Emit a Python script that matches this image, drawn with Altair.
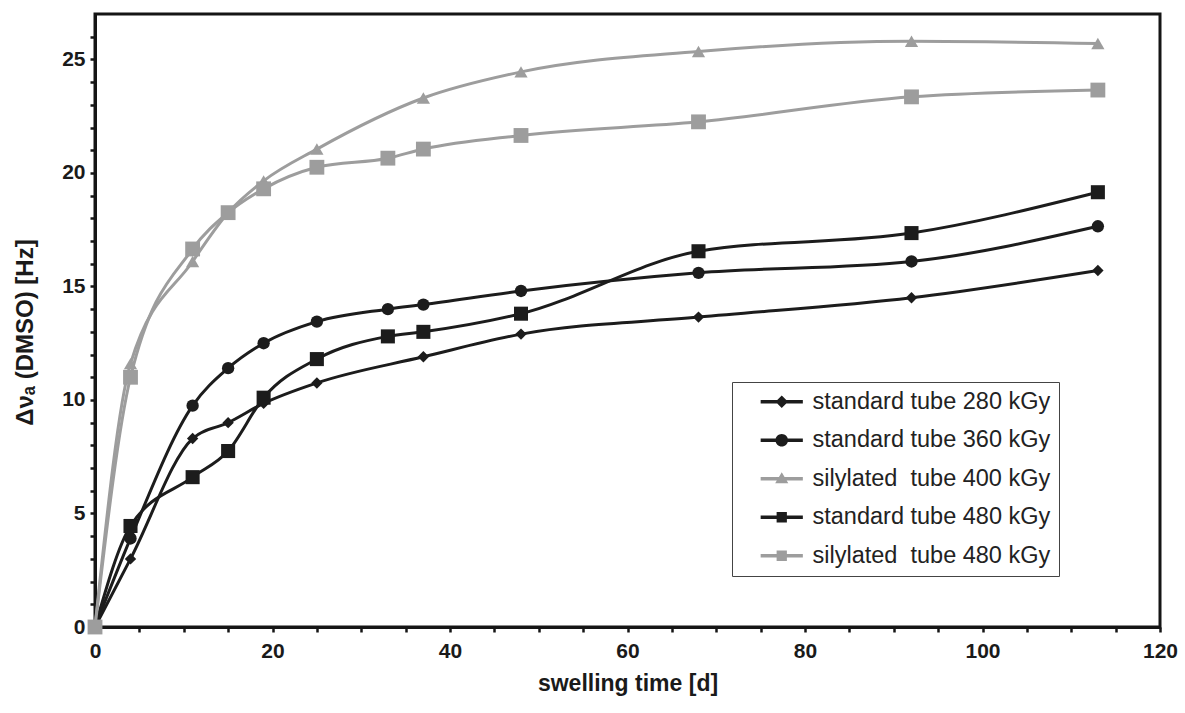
import altair as alt
import pandas as pd

series_names = [
    "standard tube 280 kGy",
    "standard tube 360 kGy",
    "silylated\u00a0 tube 400 kGy",
    "standard tube 480 kGy",
    "silylated\u00a0 tube 480 kGy",
]

days_std280 = [0, 4, 11, 15, 19, 25, 37, 48, 68, 92, 113]
vals_std280 = [0, 3.0, 8.3, 9.0, 9.85, 10.75, 11.9, 12.9, 13.65, 14.5, 15.7]

days_std360 = [0, 4, 11, 15, 19, 25, 33, 37, 48, 68, 92, 113]
vals_std360 = [0, 3.9, 9.75, 11.4, 12.5, 13.45, 14.0, 14.2, 14.8, 15.6, 16.1, 17.65]

days_sil400 = [0, 4, 11, 15, 19, 25, 37, 48, 68, 92, 113]
vals_sil400 = [0, 11.6, 16.1, 18.25, 19.65, 21.05, 23.3, 24.45, 25.35, 25.8, 25.7]

days_std480 = [0, 4, 11, 15, 19, 25, 33, 37, 48, 68, 92, 113]
vals_std480 = [0, 4.45, 6.6, 7.75, 10.1, 11.8, 12.8, 13.0, 13.8, 16.55, 17.35, 19.15]

days_sil480 = [0, 4, 11, 15, 19, 25, 33, 37, 48, 68, 92, 113]
vals_sil480 = [0, 11.0, 16.65, 18.25, 19.3, 20.25, 20.65, 21.05, 21.65, 22.25, 23.35, 23.65]

series_colors = ["#1c1c1c", "#1c1c1c", "#9d9d9d", "#1c1c1c", "#9d9d9d"]
series_shapes = ["diamond", "circle", "triangle-up", "square", "square"]
series_sizes = [130, 220, 210, 170, 170]
series_widths = [3, 3, 3.6, 3, 3.6]

# legend symbols: line segment + marker, as custom paths
bar = "M-3.7,-0.3H3.7V0.3H-3.7Z"
legend_shapes = [
    bar + "M0,-1.1L1.1,0L0,1.1L-1.1,0Z",
    bar + "M-1.1,0A1.1,1.1 0 1,1 1.1,0A1.1,1.1 0 1,1 -1.1,0Z",
    bar + "M0,-1.15L1.15,0.8L-1.15,0.8Z",
    bar + "M-0.9,-0.9H0.9V0.9H-0.9Z",
    bar + "M-0.9,-0.9H0.9V0.9H-0.9Z",
]

rows = []
for name, days, vals in zip(
    series_names,
    [days_std280, days_std360, days_sil400, days_std480, days_sil480],
    [vals_std280, vals_std360, vals_sil400, vals_std480, vals_sil480],
):
    for d, v in zip(days, vals):
        rows.append({"series": name, "day": d, "value": v})
df = pd.DataFrame(rows)

font = "Liberation Sans"

x_enc = alt.X(
    "day:Q",
    scale=alt.Scale(domain=[0, 120], nice=False),
    axis=alt.Axis(
        title="swelling time [d]",
        values=list(range(0, 121, 5)),
        labelExpr="datum.value % 20 == 0 ? datum.label : ''",
        titleFontSize=23,
        titlePadding=11,
        labelPadding=8,
    ),
)
y_enc = alt.Y(
    "value:Q",
    scale=alt.Scale(domain=[0, 27], nice=False),
    axis=alt.Axis(
        title="\u0394\u03bd\u2090 (DMSO) [Hz]",
        values=list(range(0, 27)),
        labelExpr="datum.value % 5 == 0 ? datum.label : ''",
        titleFontSize=24,
        titleX=-70,
        titleY=318,
        titleAlign="center",
        titleBaseline="middle",
        labelPadding=5,
    ),
)

color_nolegend = alt.Color(
    "series:N",
    scale=alt.Scale(domain=series_names, range=series_colors),
    legend=None,
)

lines = alt.Chart(df).mark_line(interpolate="monotone").encode(
    x=x_enc,
    y=y_enc,
    color=color_nolegend,
    detail="series:N",
    strokeWidth=alt.StrokeWidth(
        "series:N",
        scale=alt.Scale(domain=series_names, range=series_widths),
        legend=None,
    ),
)

points = alt.Chart(df).mark_point(filled=True, opacity=1).encode(
    x=x_enc,
    y=y_enc,
    color=color_nolegend,
    shape=alt.Shape(
        "series:N",
        scale=alt.Scale(domain=series_names, range=series_shapes),
        legend=None,
    ),
    size=alt.Size(
        "series:N",
        scale=alt.Scale(domain=series_names, range=series_sizes),
        legend=None,
    ),
)

legend_common = dict(
    title=None,
    orient="none",
    legendX=637,
    legendY=368,
    labelFont=font,
    labelFontSize=23.5,
    labelColor="#222222",
    symbolSize=130,
    symbolOpacity=1,
    symbolStrokeWidth=0,
    symbolOffset=30,
    labelOffset=19,
    rowPadding=13.5,
    padding=8,
    strokeColor="#444444",
    fillColor="white",
    labelLimit=400,
)

legend_layer = alt.Chart(df).mark_point(filled=True, opacity=0).encode(
    x=x_enc,
    y=y_enc,
    color=alt.Color(
        "series:N",
        scale=alt.Scale(domain=series_names, range=series_colors),
        legend=alt.Legend(**legend_common),
    ),
    shape=alt.Shape(
        "series:N",
        scale=alt.Scale(domain=series_names, range=legend_shapes),
        legend=alt.Legend(**legend_common),
    ),
)

chart = (
    alt.layer(lines, points, legend_layer)
    .resolve_scale(color="independent", shape="independent", size="independent")
    .properties(
        width=1065,
        height=613,
        autosize=alt.AutoSizeParams(type="none"),
        padding={"left": 95, "top": 14, "right": 25, "bottom": 86},
        background="white",
    )
    .configure_view(stroke="#151515", strokeWidth=3)
    .configure_axis(
        labelFont=font,
        titleFont=font,
        labelFontWeight="bold",
        titleFontWeight="bold",
        labelFontSize=21,
        labelColor="#1a1a1a",
        titleColor="#1a1a1a",
        domainColor="#151515",
        domainWidth=3,
        tickColor="#151515",
        tickWidth=2.5,
        tickSize=5,
        grid=False,
        labelFlush=False,
        labelOverlap=False,
    )
)

chart.save("out.html", embed_options={"renderer": "svg", "actions": False})
